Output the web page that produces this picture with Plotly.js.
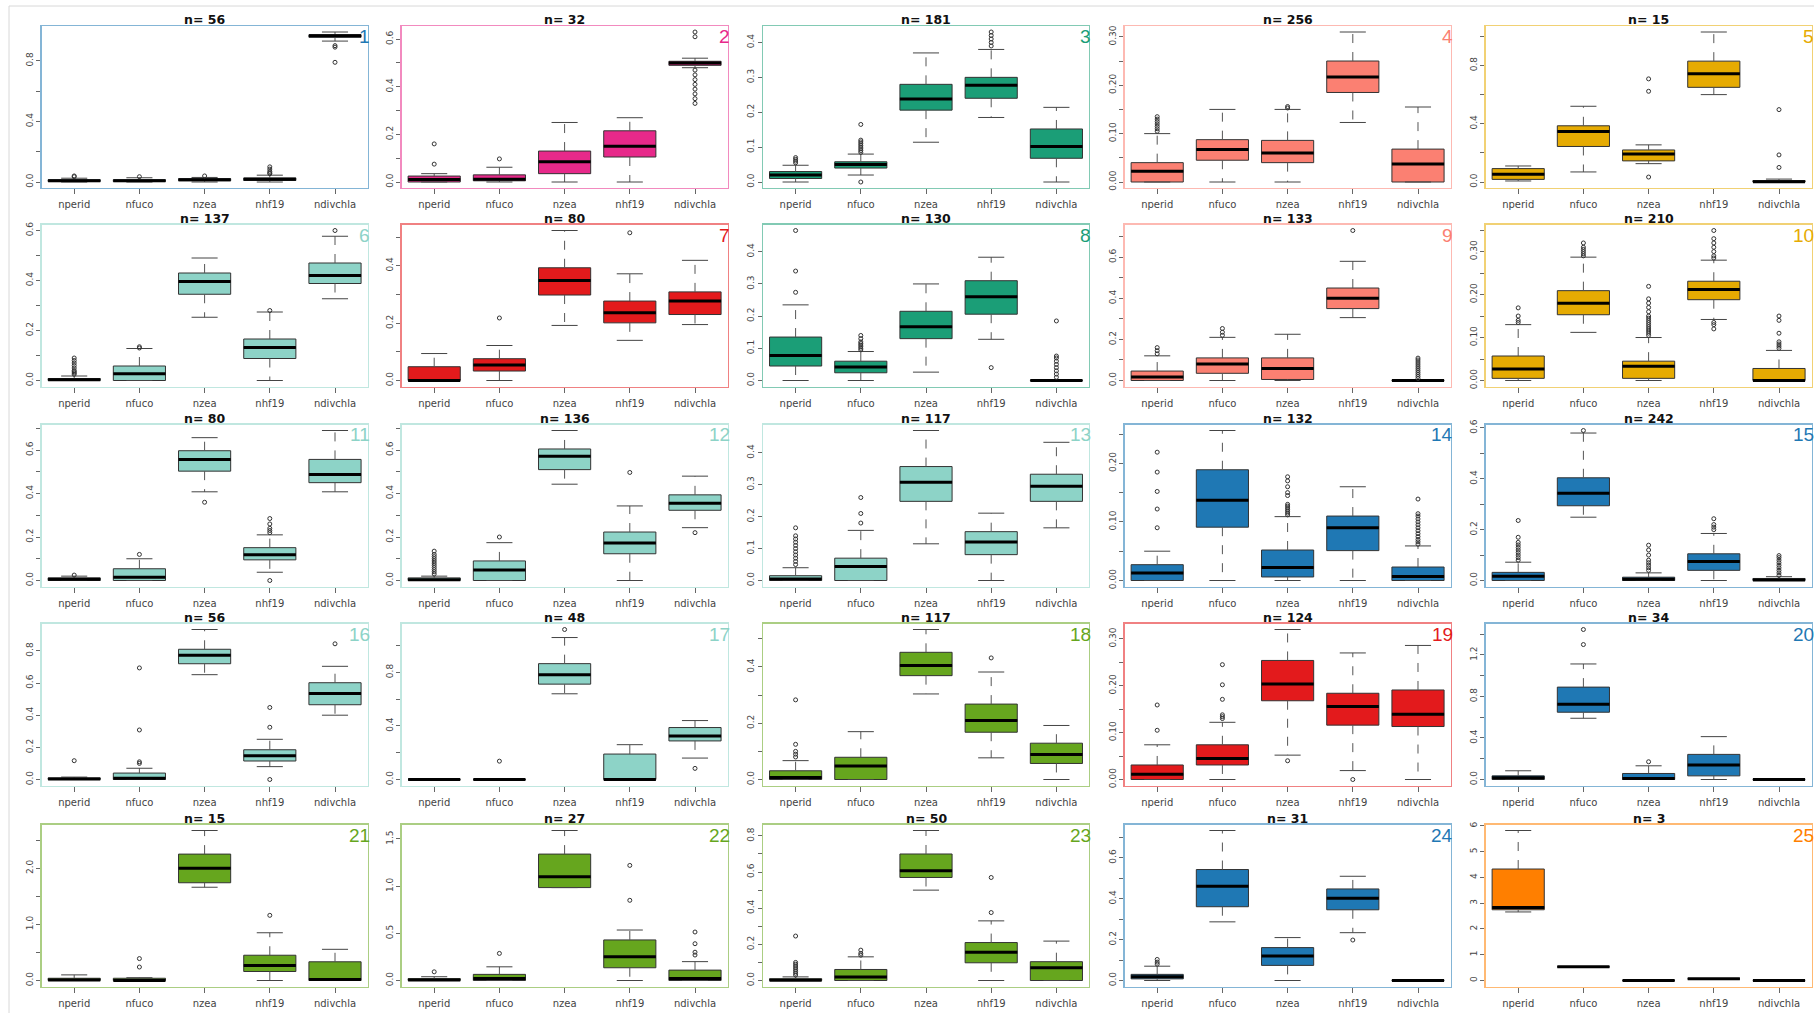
<!DOCTYPE html>
<html><head><meta charset="utf-8">
<script src="https://cdn.plot.ly/plotly-3.0.1.min.js"></script>
<style>html,body{margin:0;padding:0;background:#fff;}#chart{width:1814px;height:1013px;}</style>
</head><body><div id="chart"></div>
<script>
// ---------------- DATA ----------------
const categories = ["nperid", "nfuco", "nzea", "nhf19", "ndivchla"];
const sampleSizes = [56, 32, 181, 256, 15, 137, 80, 130, 133, 210, 80, 136, 117, 132, 242, 56, 48, 117, 124, 34, 15, 27, 50, 31, 3];
const panelColors = ["#1f78b4", "#e7298a", "#1b9e77", "#fb8072", "#e6ab02",
                     "#8dd3c7", "#e31a1c", "#1b9e77", "#fb8072", "#e6ab02",
                     "#8dd3c7", "#8dd3c7", "#8dd3c7", "#1f78b4", "#1f78b4",
                     "#8dd3c7", "#8dd3c7", "#66a61e", "#e31a1c", "#1f78b4",
                     "#66a61e", "#66a61e", "#66a61e", "#1f78b4", "#ff7f00"];

const lowerWhisker = [
  [0, 0, 0, 0, 0.93], [0, 0, 0, 0, 0.48], [0, 0.02, 0.114, 0.185, 0], [0, 0, 0, 0.123, 0], [0.007, 0.069, 0.126, 0.6, 0],
  [0, 0, 0.253, 0, 0.327], [0, 0, 0.192, 0.14, 0.195], [0, 0, 0.026, 0.128, 0], [0, 0, 0, 0.306, 0], [0, 0.112, 0, 0.142, 0],
  [0, 0, 0.408, 0.038, 0.408], [0, 0, 0.443, 0, 0.243], [0, 0, 0.115, 0, 0.165], [0, 0, 0, 0, 0], [0, 0.249, 0, 0, 0],
  [0, 0, 0.652, 0.08, 0.4], [0, 0, 0.64, 0, 0.16], [0, 0, 0.304, 0.077, 0], [0, 0, 0.052, 0.019, 0], [0, 0.59, 0, 0, 0],
  [0, 0, 1.66, 0, 0], [0, 0, 0.985, 0, 0], [0, 0, 0.5, 0, 0], [0, 0.287, 0, 0.234, 0], [2.66, 0.53, 0, 0.065, 0]
];
const lowerQuartile = [
  [0.003, 0.003, 0.008, 0.01, 0.955], [0, 0.005, 0.035, 0.105, 0.49], [0.01, 0.04, 0.206, 0.24, 0.068], [0, 0.045, 0.04, 0.185, 0], [0.018, 0.244, 0.145, 0.65, 0],
  [0, 0, 0.345, 0.088, 0.388], [0, 0.033, 0.298, 0.201, 0.23], [0.045, 0.024, 0.13, 0.206, 0], [0, 0.035, 0.005, 0.35, 0], [0.005, 0.153, 0.005, 0.188, 0],
  [0, 0, 0.503, 0.095, 0.45], [0, 0, 0.51, 0.123, 0.323], [0, 0, 0.248, 0.081, 0.248], [0, 0.091, 0.006, 0.051, 0], [0, 0.294, 0, 0.04, 0],
  [0, 0, 0.72, 0.115, 0.465], [0, 0, 0.712, 0, 0.288], [0, 0, 0.369, 0.168, 0.057], [0, 0.031, 0.168, 0.116, 0.113], [0, 0.648, 0, 0.035, 0],
  [0, 0, 1.74, 0.16, 0], [0, 0, 0.985, 0.135, 0], [0, 0, 0.57, 0.098, 0], [0.008, 0.361, 0.074, 0.346, 0], [2.745, 0.53, 0, 0.065, 0]
];
const medianValue = [
  [0.008, 0.008, 0.015, 0.018, 0.965], [0.01, 0.012, 0.085, 0.15, 0.5], [0.02, 0.05, 0.238, 0.277, 0.102], [0.022, 0.067, 0.06, 0.217, 0.037], [0.053, 0.347, 0.193, 0.743, 0.002],
  [0.003, 0.027, 0.396, 0.132, 0.42], [0, 0.054, 0.349, 0.236, 0.277], [0.078, 0.042, 0.167, 0.26, 0], [0.017, 0.08, 0.058, 0.4, 0], [0.027, 0.18, 0.033, 0.212, 0],
  [0.006, 0.015, 0.557, 0.118, 0.488], [0.004, 0.048, 0.571, 0.172, 0.355], [0.005, 0.044, 0.308, 0.121, 0.295], [0.013, 0.137, 0.022, 0.09, 0.007], [0.017, 0.343, 0.005, 0.075, 0.002],
  [0.003, 0.008, 0.773, 0.148, 0.535], [0, 0, 0.783, 0, 0.325], [0.007, 0.048, 0.405, 0.21, 0.089], [0.011, 0.045, 0.204, 0.156, 0.139], [0.016, 0.726, 0.01, 0.139, 0],
  [0.01, 0, 2.0, 0.268, 0.02], [0.005, 0.02, 1.1, 0.252, 0.02], [0.002, 0.02, 0.607, 0.157, 0.07], [0.018, 0.461, 0.12, 0.403, 0], [2.83, 0.53, 0, 0.065, 0]
];
const upperQuartile = [
  [0.015, 0.015, 0.022, 0.027, 0.972], [0.025, 0.03, 0.13, 0.215, 0.507], [0.03, 0.058, 0.28, 0.3, 0.152], [0.04, 0.0875, 0.086, 0.25, 0.068], [0.092, 0.386, 0.22, 0.83, 0.01],
  [0.008, 0.058, 0.43, 0.166, 0.47], [0.048, 0.076, 0.393, 0.277, 0.309], [0.135, 0.06, 0.215, 0.31, 0.001], [0.046, 0.11, 0.11, 0.45, 0.002], [0.057, 0.209, 0.045, 0.231, 0.028],
  [0.012, 0.054, 0.597, 0.151, 0.557], [0.012, 0.09, 0.605, 0.223, 0.394], [0.015, 0.07, 0.357, 0.153, 0.333], [0.027, 0.189, 0.052, 0.11, 0.023], [0.032, 0.404, 0.013, 0.105, 0.008],
  [0.01, 0.04, 0.81, 0.185, 0.602], [0, 0, 0.865, 0.19, 0.388], [0.031, 0.079, 0.452, 0.268, 0.129], [0.031, 0.074, 0.254, 0.184, 0.191], [0.035, 0.89, 0.058, 0.242, 0.002],
  [0.04, 0.04, 2.25, 0.45, 0.333], [0.02, 0.065, 1.34, 0.43, 0.11], [0.01, 0.061, 0.7, 0.21, 0.104], [0.03, 0.543, 0.161, 0.448, 0.002], [4.325, 0.53, 0, 0.065, 0]
];
const upperWhisker = [
  [0.025, 0.028, 0.03, 0.045, 0.99], [0.035, 0.062, 0.25, 0.27, 0.52], [0.048, 0.08, 0.37, 0.38, 0.214], [0.1, 0.15, 0.15, 0.31, 0.155], [0.11, 0.52, 0.255, 1.03, 0.02],
  [0.018, 0.128, 0.49, 0.274, 0.577], [0.094, 0.122, 0.523, 0.372, 0.419], [0.235, 0.09, 0.3, 0.383, 0.002], [0.12, 0.21, 0.225, 0.58, 0.004], [0.13, 0.287, 0.1, 0.28, 0.07],
  [0.02, 0.1, 0.657, 0.21, 0.69], [0.02, 0.174, 0.69, 0.343, 0.48], [0.04, 0.157, 0.47, 0.211, 0.433], [0.05, 0.256, 0.109, 0.16, 0.059], [0.072, 0.58, 0.03, 0.185, 0.015],
  [0.015, 0.07, 0.933, 0.25, 0.704], [0, 0, 1.06, 0.26, 0.44], [0.067, 0.17, 0.533, 0.382, 0.192], [0.074, 0.122, 0.32, 0.27, 0.286], [0.084, 1.113, 0.132, 0.413, 0.004],
  [0.1, 0.05, 2.67, 0.85, 0.555], [0.04, 0.145, 1.59, 0.535, 0.2], [0.02, 0.131, 0.83, 0.33, 0.218], [0.07, 0.734, 0.21, 0.51, 0.004], [5.82, 0.53, 0, 0.065, 0]
];
const outlierValues = [
  [[0.035, 0.04], [0.035], [0.04], [0.055, 0.06, 0.07, 0.085, 0.1], [0.9, 0.89, 0.79]],
  [[0.075, 0.16], [0.097], [], [], [0.61, 0.63, 0.47, 0.45, 0.43, 0.41, 0.39, 0.37, 0.35, 0.33]],
  [[0.055, 0.06, 0.065, 0.07], [0, 0.085, 0.09, 0.095, 0.1, 0.105, 0.11, 0.115, 0.12, 0.165], [], [0.39, 0.4, 0.41, 0.42, 0.43], []],
  [[0.105, 0.11, 0.115, 0.12, 0.125, 0.13, 0.135], [], [0.153, 0.156], [], []],
  [[], [], [0.034, 0.623, 0.708], [], [0.1, 0.186, 0.497]],
  [[0.025, 0.03, 0.035, 0.04, 0.05, 0.06, 0.07, 0.08, 0.09], [0.13, 0.135], [], [0.28], [0.6]],
  [[], [0.218], [], [0.515], []],
  [[0.274, 0.34, 0.466], [0.095, 0.1, 0.105, 0.11, 0.115, 0.12, 0.13, 0.14], [], [0.04], [0.01, 0.02, 0.03, 0.04, 0.05, 0.06, 0.07, 0.076, 0.185]],
  [[0.13, 0.145, 0.16], [0.22, 0.235, 0.253], [], [0.73], [0.01, 0.02, 0.03, 0.04, 0.05, 0.06, 0.07, 0.08, 0.09, 0.1, 0.109]],
  [[0.135, 0.14, 0.15, 0.169], [0.29, 0.295, 0.3, 0.305, 0.31, 0.32], [0.105, 0.11, 0.115, 0.12, 0.125, 0.13, 0.135, 0.14, 0.145, 0.15, 0.16, 0.17, 0.18, 0.19, 0.219], [0.12, 0.13, 0.135, 0.285, 0.29, 0.3, 0.31, 0.32, 0.33, 0.349], [0.075, 0.08, 0.085, 0.09, 0.11, 0.14, 0.15]],
  [[0.025], [0.12], [0.36], [0, 0.22, 0.23, 0.24, 0.26, 0.285], []],
  [[0.03, 0.04, 0.05, 0.06, 0.07, 0.08, 0.09, 0.1, 0.11, 0.12, 0.135], [0.2], [], [0.497], [0.22]],
  [[0.05, 0.06, 0.07, 0.08, 0.09, 0.1, 0.11, 0.12, 0.13, 0.14, 0.165], [0.18, 0.21, 0.26], [], [], []],
  [[0.09, 0.122, 0.152, 0.185, 0.219], [], [0.112, 0.115, 0.118, 0.121, 0.124, 0.127, 0.13, 0.145, 0.15, 0.16, 0.17, 0.177], [], [0.062, 0.066, 0.07, 0.075, 0.08, 0.085, 0.09, 0.095, 0.1, 0.105, 0.11, 0.114, 0.139]],
  [[0.08, 0.09, 0.1, 0.11, 0.12, 0.13, 0.14, 0.15, 0.17, 0.236], [0.59], [0.04, 0.05, 0.06, 0.07, 0.08, 0.1, 0.12, 0.139], [0.2, 0.21, 0.22, 0.243], [0.02, 0.03, 0.04, 0.05, 0.06, 0.07, 0.08, 0.09, 0.098]],
  [[0.117], [0.1, 0.11, 0.308, 0.694], [], [0, 0.325, 0.448], [0.844]],
  [[], [0.137], [1.12], [], [0.083]],
  [[0.08, 0.09, 0.1, 0.125, 0.283], [], [], [0.432], []],
  [[0.105, 0.159], [0.13, 0.134, 0.138, 0.171, 0.202, 0.245], [0.04], [0], []],
  [[], [1.3, 1.445], [0.171], [], []],
  [[], [0.24, 0.39], [], [1.16], []],
  [[0.092], [0.287], [], [0.85, 1.22], [0.27, 0.3, 0.39, 0.514]],
  [[0.03, 0.04, 0.05, 0.06, 0.07, 0.08, 0.09, 0.1, 0.246], [0.14, 0.15, 0.168], [], [0.376, 0.57], []],
  [[0.08, 0.09, 0.103], [], [], [0.198], []],
  [[], [], [], [], []]
];

const yTickValues = [
  [0, 0.2, 0.4, 0.6, 0.8], [0, 0.1, 0.2, 0.3, 0.4, 0.5, 0.6], [0, 0.1, 0.2, 0.3, 0.4], [0, 0.05, 0.1, 0.15, 0.2, 0.25, 0.3], [0, 0.2, 0.4, 0.6, 0.8, 1.0],
  [0, 0.1, 0.2, 0.3, 0.4, 0.5, 0.6], [0, 0.1, 0.2, 0.3, 0.4, 0.5], [0, 0.1, 0.2, 0.3, 0.4], [0, 0.1, 0.2, 0.3, 0.4, 0.5, 0.6, 0.7], [0, 0.05, 0.1, 0.15, 0.2, 0.25, 0.3, 0.35],
  [0, 0.1, 0.2, 0.3, 0.4, 0.5, 0.6, 0.7], [0, 0.1, 0.2, 0.3, 0.4, 0.5, 0.6, 0.7], [0, 0.1, 0.2, 0.3, 0.4], [0, 0.05, 0.1, 0.15, 0.2, 0.25], [0, 0.1, 0.2, 0.3, 0.4, 0.5, 0.6],
  [0, 0.2, 0.4, 0.6, 0.8], [0, 0.2, 0.4, 0.6, 0.8, 1.0], [0, 0.1, 0.2, 0.3, 0.4, 0.5], [0, 0.05, 0.1, 0.15, 0.2, 0.25, 0.3], [0, 0.2, 0.4, 0.6, 0.8, 1.0, 1.2, 1.4],
  [0, 0.5, 1.0, 1.5, 2.0, 2.5], [0, 0.5, 1.0, 1.5], [0, 0.1, 0.2, 0.3, 0.4, 0.5, 0.6, 0.7, 0.8], [0, 0.1, 0.2, 0.3, 0.4, 0.5, 0.6, 0.7], [0, 1, 2, 3, 4, 5, 6]
];
const yTickLabels = [
  ["0.0", "", "0.4", "", "0.8"], ["0.0", "", "0.2", "", "0.4", "", "0.6"], ["0.0", "0.1", "0.2", "0.3", "0.4"], ["0.00", "", "0.10", "", "0.20", "", "0.30"], ["0.0", "", "0.4", "", "0.8", ""],
  ["0.0", "", "0.2", "", "0.4", "", "0.6"], ["0.0", "", "0.2", "", "0.4", ""], ["0.0", "0.1", "0.2", "0.3", "0.4"], ["0.0", "", "0.2", "", "0.4", "", "0.6", ""], ["0.00", "", "0.10", "", "0.20", "", "0.30", ""],
  ["0.0", "", "0.2", "", "0.4", "", "0.6", ""], ["0.0", "", "0.2", "", "0.4", "", "0.6", ""], ["0.0", "0.1", "0.2", "0.3", "0.4"], ["0.00", "", "0.10", "", "0.20", ""], ["0.0", "", "0.2", "", "0.4", "", "0.6"],
  ["0.0", "0.2", "0.4", "0.6", "0.8"], ["0.0", "", "0.4", "", "0.8", ""], ["0.0", "", "0.2", "", "0.4", ""], ["0.00", "", "0.10", "", "0.20", "", "0.30"], ["0.0", "", "0.4", "", "0.8", "", "1.2", ""],
  ["0.0", "", "1.0", "", "2.0", ""], ["0.0", "0.5", "1.0", "1.5"], ["0.0", "", "0.2", "", "0.4", "", "0.6", "", "0.8"], ["0.0", "", "0.2", "", "0.4", "", "0.6", ""], ["0", "1", "2", "3", "4", "5", "6"]
];

// ---------------- LAYOUT / STYLE ----------------
const W = 1814, H = 1013;
const colLeft = [41.6, 401.6, 763.0, 1124.6, 1485.6];
const rowTop = [26, 224.5, 424.5, 623.5, 824.5];
const panelW = 326, panelH = 162;
const FONT = "DejaVu Sans, Liberation Sans, Arial, sans-serif";
const NUMFONT = "Liberation Sans, Arial, sans-serif";

function rgba(hex, a) {
  const n = parseInt(hex.slice(1), 16);
  return "rgba(" + ((n >> 16) & 255) + "," + ((n >> 8) & 255) + "," + (n & 255) + "," + a + ")";
}

const traces = [];
const layout = {
  width: W, height: H,
  margin: {l: 0, r: 0, t: 0, b: 0},
  paper_bgcolor: "#ffffff", plot_bgcolor: "#ffffff",
  showlegend: false,
  font: {family: FONT},
  annotations: [],
  shapes: [
    {type: "line", xref: "paper", yref: "paper", x0: 9 / W, x1: 1, y0: 1 - 6 / H, y1: 1 - 6 / H, line: {color: "#d8d8d8", width: 1}},
    {type: "line", xref: "paper", yref: "paper", x0: 9 / W, x1: 9 / W, y0: 0, y1: 1 - 6 / H, line: {color: "#d8d8d8", width: 1}}
  ]
};

const pos = categories.map((c, i) => i);

for (let p = 0; p < 25; p++) {
  const r = Math.floor(p / 5), c = p % 5;
  const suf = p === 0 ? "" : String(p + 1);
  const xa = "x" + suf, ya = "y" + suf;
  const col = panelColors[p];
  const lo = lowerWhisker[p], q1 = lowerQuartile[p], md = medianValue[p], q3 = upperQuartile[p], hi = upperWhisker[p];

  const wx = [], wy = [], sx = [], sy = [], mx = [], my = [], ox = [], oy = [];
  pos.forEach(i => {
    wx.push(i, i, null, i, i, null);
    wy.push(q3[i], hi[i], null, q1[i], lo[i], null);
    sx.push(i - 0.2, i + 0.2, null, i - 0.2, i + 0.2, null);
    sy.push(hi[i], hi[i], null, lo[i], lo[i], null);
    mx.push(i - 0.4, i + 0.4, null);
    my.push(md[i], md[i], null);
    outlierValues[p][i].forEach(v => { ox.push(i); oy.push(v); });
  });

  traces.push({type: "scatter", mode: "lines", x: wx, y: wy, xaxis: xa, yaxis: ya,
    line: {color: "#555", width: 1, dash: "dash"}, hoverinfo: "skip", showlegend: false});
  traces.push({type: "scatter", mode: "lines", x: sx, y: sy, xaxis: xa, yaxis: ya,
    line: {color: "#444", width: 1}, hoverinfo: "skip", showlegend: false});
  traces.push({type: "box", x: pos, q1: q1, median: md, q3: q3, lowerfence: q1, upperfence: q3,
    width: 0.8, whiskerwidth: 0, boxpoints: false, fillcolor: col,
    line: {color: "#333", width: 1}, xaxis: xa, yaxis: ya, hoverinfo: "skip", showlegend: false});
  traces.push({type: "scatter", mode: "lines", x: mx, y: my, xaxis: xa, yaxis: ya,
    line: {color: "#000", width: 3}, hoverinfo: "skip", showlegend: false});
  traces.push({type: "scatter", mode: "markers", x: ox, y: oy, xaxis: xa, yaxis: ya,
    marker: {symbol: "circle-open", size: 4, color: "#333", line: {width: 1}}, hoverinfo: "skip", showlegend: false});

  let ymin = Infinity, ymax = -Infinity;
  pos.forEach(i => {
    ymin = Math.min(ymin, lo[i]); ymax = Math.max(ymax, hi[i]);
    outlierValues[p][i].forEach(v => { ymin = Math.min(ymin, v); ymax = Math.max(ymax, v); });
  });
  const d = ymax - ymin;

  const x0 = colLeft[c], x1 = Math.min(colLeft[c] + panelW, W - 2);
  const yTop = rowTop[r], yBot = rowTop[r] + panelH;
  const border = rgba(col, 0.55);

  layout["xaxis" + suf] = {
    domain: [x0 / W, x1 / W], anchor: ya, range: [-0.5, 4.5],
    tickvals: pos, ticktext: categories, tickmode: "array",
    showline: true, mirror: true, linecolor: border, linewidth: 1.2,
    ticks: "outside", ticklen: 5, tickcolor: "#666", tickwidth: 1,
    tickfont: {size: 10, color: "#444", family: FONT}, ticklabelstandoff: 2,
    showgrid: false, zeroline: false, fixedrange: true
  };
  layout["yaxis" + suf] = {
    domain: [1 - yBot / H, 1 - yTop / H], anchor: xa,
    range: [ymin - 0.04 * d, ymax + 0.04 * d],
    tickvals: yTickValues[p], ticktext: yTickLabels[p], tickmode: "array", tickangle: -90,
    showline: true, mirror: true, linecolor: border, linewidth: 1.2,
    ticks: "outside", ticklen: 4, tickcolor: "#666", tickwidth: 1,
    tickfont: {size: 9, color: "#444", family: FONT},
    showgrid: false, zeroline: false, fixedrange: true
  };

  layout.annotations.push({
    xref: "paper", yref: "paper", x: (x0 + panelW / 2) / W, y: 1 - (yTop + 2) / H,
    xanchor: "center", yanchor: "bottom", showarrow: false, borderpad: 0,
    text: "<b>n= " + sampleSizes[p] + "</b>", font: {size: 12.5, color: "#111", family: FONT}
  });
  layout.annotations.push({
    xref: "paper", yref: "paper", x: (x0 + panelW + 3) / W, y: 1 - (yTop - 1) / H,
    xanchor: "right", yanchor: "top", showarrow: false, borderpad: 0,
    text: String(p + 1), font: {size: 19, color: col, family: NUMFONT}
  });
}

Plotly.newPlot("chart", traces, layout, {staticPlot: true, displayModeBar: false});
</script>
</body></html>
